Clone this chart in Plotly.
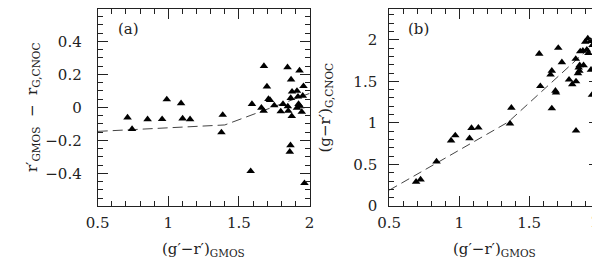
import plotly.graph_objects as go

# Panel (a): r'_GMOS - r_G,CNOC vs (g'-r')_GMOS
a_x = [0.711, 0.743, 0.853, 0.956, 0.989, 1.090, 1.101, 1.154, 1.385, 1.376,
       1.592, 1.677, 1.698, 1.709, 1.720, 1.659, 1.675, 1.750, 1.796, 1.812,
       1.844, 1.869, 1.876, 1.867, 1.846, 1.849, 1.874, 1.911, 1.929, 1.918,
       1.922, 1.934, 1.911, 1.945, 1.957, 1.952,
       1.865, 1.860, 1.583, 1.964]
a_y = [-0.061, -0.131, -0.072, -0.071, 0.049, 0.025, -0.067, -0.072, -0.045, -0.151,
       0.021, 0.251, 0.127, 0.051, 0.045, -0.002, -0.021, 0.012, -0.024, 0.021,
       0.243, 0.169, 0.096, 0.057, 0.006, -0.021, -0.053, 0.100, 0.224, 0.065,
       0.021, 0.006, -0.002, -0.027, 0.129, 0.071,
       -0.229, -0.269, -0.386, -0.459]
a_line_x = [0.5, 1.4, 2.0]
a_line_y = [-0.145, -0.106, 0.085]

# Panel (b): (g-r')_G,CNOC vs (g'-r')_GMOS
b_x = [0.692, 0.724, 0.838, 0.942, 0.972, 1.074, 1.088, 1.137, 1.373, 1.363,
       1.572, 1.580, 1.708, 1.662, 1.835,
       1.662, 1.653, 1.734, 1.785, 1.808, 1.835, 1.688, 1.692, 1.833, 1.861,
       1.889, 1.854, 1.859, 1.849, 1.942, 1.949, 1.865, 1.884, 1.912, 1.924,
       1.919, 1.940, 1.901, 1.965, 1.953]
b_y = [0.291, 0.318, 0.535, 0.787, 0.849, 0.814, 0.938, 0.942, 1.182, 0.992,
       1.832, 1.442, 1.903, 1.174, 0.907,
       1.628, 1.581, 1.729, 1.521, 1.465, 1.500, 1.387, 1.364, 1.771, 1.694,
       1.694, 1.667, 1.628, 1.597, 1.640, 1.337, 1.860, 1.868, 1.880, 1.841,
       2.015, 1.985, 1.977, 2.008, 1.938]
b_line_x = [0.5, 1.35, 2.0]
b_line_y = [0.19, 1.01, 2.01]

x_ticks = [0.5, 1, 1.5, 2]
x_ticktext = ["0.5", "1", "1.5", "2"]
b_x_ticktext = ["0.5", "1", "1.5", ""]   # last label drawn as annotation (edge)
a_yticks = [-0.4, -0.2, 0, 0.2, 0.4]
a_yticktext = ["\u22120.4", "\u22120.2", "0", "0.2", "0.4"]
b_yticks = [0, 0.5, 1, 1.5, 2]
b_yticktext = ["0", "0.5", "1", "1.5", "2"]

FONT = "DejaVu Serif"
INK = "#222222"

fig = go.Figure()
mk = dict(symbol="triangle-up", size=7.5, color="black")
fig.add_trace(go.Scatter(x=a_line_x, y=a_line_y, mode="lines",
                         line=dict(color="#444", width=1, dash="10px,5px"),
                         xaxis="x", yaxis="y", showlegend=False))
fig.add_trace(go.Scatter(x=a_x, y=a_y, mode="markers", marker=mk,
                         xaxis="x", yaxis="y", showlegend=False))
fig.add_trace(go.Scatter(x=b_line_x, y=b_line_y, mode="lines",
                         line=dict(color="#444", width=1, dash="9px,5px"),
                         xaxis="x2", yaxis="y2", showlegend=False))
fig.add_trace(go.Scatter(x=b_x, y=b_y, mode="markers", marker=mk,
                         xaxis="x2", yaxis="y2", showlegend=False))

ax_common = dict(showline=True, linecolor=INK, linewidth=1, mirror="ticks",
                 ticks="inside", ticklen=10, tickwidth=1, tickcolor=INK,
                 showgrid=False, zeroline=False,
                 tickfont=dict(family=FONT, size=15, color=INK))

ydom = [1 - 205 / 262, 1 - 1 / 262]
fig.update_layout(
    width=600, height=262,
    margin=dict(l=0, r=0, t=0, b=0),
    paper_bgcolor="white", plot_bgcolor="white",
    xaxis=dict(domain=[80 / 600, 298 / 600], range=[0.5, 2.0],
               tickvals=x_ticks, ticktext=x_ticktext, anchor="y",
               ticklabelstandoff=3,
               minor=dict(ticks="inside", dtick=0.1, tick0=0.5, ticklen=5,
                          tickcolor=INK, showgrid=False),
               **ax_common),
    yaxis=dict(domain=ydom, range=[-0.597, 0.597], anchor="x",
               tickvals=a_yticks, ticktext=a_yticktext,
               ticklabelstandoff=12,
               minor=dict(ticks="inside", dtick=0.05, tick0=0, ticklen=5,
                          tickcolor=INK, showgrid=False),
               **ax_common),
    xaxis2=dict(domain=[380 / 600, 596 / 600], range=[0.5, 2.0],
                tickvals=x_ticks, ticktext=b_x_ticktext, anchor="y2",
                ticklabelstandoff=3,
                minor=dict(ticks="inside", dtick=0.1, tick0=0.5, ticklen=5,
                           tickcolor=INK, showgrid=False),
                **ax_common),
    yaxis2=dict(domain=ydom, range=[0, 2.372], anchor="x2",
                tickvals=b_yticks, ticktext=b_yticktext,
                ticklabelstandoff=8,
                minor=dict(ticks="inside", dtick=0.1, tick0=0, ticklen=5,
                           tickcolor=INK, showgrid=False),
                **ax_common),
)

tfont = dict(family=FONT, size=15, color=INK)
annots = [
    dict(text="(a)", x=112 / 600, y=1 - 22 / 262),
    dict(text="(b)", x=410 / 600, y=1 - 22 / 262),
    dict(text="(g\u2032\u2212r\u2032)<sub>GMOS</sub>", x=189 / 600, y=1 - 250 / 262),
    dict(text="(g\u2032\u2212r\u2032)<sub>GMOS</sub>", x=488 / 600, y=1 - 250 / 262),
    dict(text="r\u2032<sub>GMOS</sub>  \u2212  r<sub>G,CNOC</sub>", x=13 / 600,
         y=1 - 103 / 262, textangle=-90),
    dict(text="(g\u2212r\u2032)<sub>G,CNOC</sub>", x=314 / 600,
         y=1 - 103 / 262, textangle=-90),
]
for an in annots:
    fig.add_annotation(xref="paper", yref="paper", showarrow=False,
                       xanchor="center", yanchor="middle", font=tfont, **an)
# edge tick label "2" of panel (b), kept inside the page
fig.add_annotation(xref="paper", yref="paper", showarrow=False,
                   x=599.5 / 600, y=1 - 222 / 262, xanchor="right",
                   yanchor="middle", text=x_ticktext[-1],
                   font=dict(family=FONT, size=15, color=INK))

fig.write_html("out.html")
